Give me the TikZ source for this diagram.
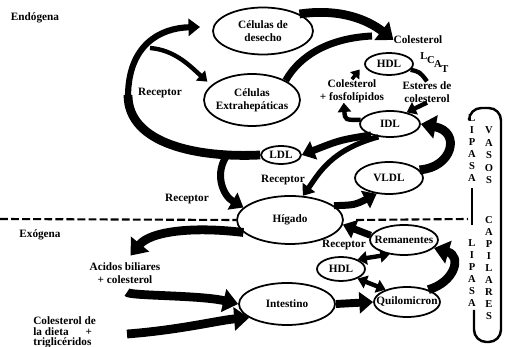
\documentclass[tikz,border=0pt]{standalone}
\usepackage{fontspec}
\setmainfont{Liberation Serif}
\usetikzlibrary{arrows.meta}
\usetikzlibrary{shapes.geometric}

\tikzset{
  rotulo/.style={font=\fontsize{6.4}{7.2}\selectfont\bfseries, inner sep=0pt, align=center},
  elipse/.style 2 args={rotulo, ellipse, draw, line width=1pt, minimum width=#1, minimum height=#2, inner sep=-5pt},
  flecha/.style={line width=#1, -{Triangle[length=2pt 1.3, width=2pt 2.2]}},
  dobleflecha/.style={line width=#1, {Triangle[length=2pt 1.3, width=2pt 2.2]}-{Triangle[length=2pt 1.3, width=2pt 2.2]}},
  letra/.style={font=\fontsize{6}{6}\selectfont\bfseries, inner sep=0pt},
}

\begin{document}
\begin{tikzpicture}[x=0.02cm, y=-0.02cm]
        \useasboundingbox (0,0) rectangle (505,347);
        \node[elipse={2cm}{0.94cm}] (desecho) at (263,31) {C\'elulas de\\desecho};
        \node[elipse={1.92cm}{1.04cm}] (extra) at (252,100) {C\'elulas\\Extrahep\'aticas};
        \node[elipse={0.96cm}{0.44cm}] (hdlA) at (389,64) {HDL};
        \node[elipse={1.2cm}{0.52cm}] (idl) at (390,124) {IDL};
        \node[elipse={0.8cm}{0.36cm}] (ldl) at (281,155) {LDL};
        \node[elipse={1.36cm}{0.64cm}] (vldl) at (389,178) {VLDL};
        \node[elipse={2.12cm}{0.96cm}] (higado) at (290,220) {H\'igado};
        \node[elipse={1.36cm}{0.6cm}] (reman) at (404,240) {Remanentes};
        \node[elipse={0.96cm}{0.48cm}] (hdlB) at (341,269) {HDL};
        \node[elipse={1.32cm}{0.6cm}] (quilo) at (407,302) {Quilomicron};
        \node[elipse={1.92cm}{0.84cm}] (intes) at (287,304) {Intestino};

        \node[rotulo] (endo) at (35,18) {End\'ogena};
        \node[rotulo] (exo) at (40,235) {Ex\'ogena};
        \node[rotulo] (rec1) at (160,93) {Receptor};
        \node[rotulo] (rec2) at (187,199) {Receptor};
        \node[rotulo] (rec3) at (283,180) {Receptor};
        \node[rotulo] (rec4) at (344,245) {Receptor};
        \node[rotulo] (col) at (418,40) {Colesterol};
        \node[rotulo] (colfos) at (352,91) {Colesterol\\+ fosfol\'ipidos};
        \node[rotulo] (esteres) at (427,92) {Esteres de\\colesterol};
        \node[rotulo] (acidos) at (125,273) {Acidos biliares\\+ colesterol};
        \node[rotulo, align=left, anchor=north west, font=\fontsize{6.4}{6.2}\selectfont\bfseries] (dieta) at (33,316) {Colesterol de\\la dieta \quad\ +\\triglic\'eridos};
        \foreach \l/\x/\y in {L/424/56, C/431/60, A/438/64, T/445/69}
            \node[letra] (lcat\l) at (\x,\y) {\l};

        \foreach \l [count=\i] in {L,I,P,A,S,A}
            \node[letra] (lipA\i) at (472,106+12*\i) {\l};
        \foreach \l [count=\i] in {L,I,P,A,S,A}
            \node[letra] (lipB\i) at (472,231+12*\i) {\l};
        \foreach \l [count=\i] in {V,A,S,O,S}
            \node[letra] (vasos\i) at (489,118+12.5*\i) {\l};
        \foreach \l [count=\i] in {C,A,P,I,L,A,R,E,S}
            \node[letra] (capil\i) at (489,208+12*\i) {\l};
        \draw[line width=1.6pt] (lipA6.south) ++(0,6) -- ([yshift=8]lipB1.north);
        \draw[line width=1.4pt, rounded corners=7pt] (469,118) -- (469,108) -- (501,108) -- (501,342) -- (474,342) -- (474,310);

        \coordinate (dashL) at (0,219);
        \coordinate (dashR) at (468,219);
        \draw[line width=1.2pt, dash pattern=on 4.5pt off 1.8pt] (dashL) -- (higado.west);
        \draw[line width=1.2pt, dash pattern=on 4.5pt off 1.8pt] ([xshift=7pt]higado.east) -- (dashR);

        \coordinate (ramalA) at (228,154);
        \coordinate (ramalB) at (150,48);
        \coordinate (salida) at (127,334);
        \draw[line width=5pt] (ldl.west) .. controls (200,158) and (128,145) .. (128,95);
        \draw[flecha=3.5pt] (128,97) .. controls (128,45) and (160,28) .. (200,27);
        \draw[flecha=2.5pt, shorten >=3pt] (ramalB) .. controls (175,50) and (190,66) .. (extra.160);
        \draw[flecha=4pt] (ramalA) .. controls (214,172) and (222,195) .. (higado.165);

        \draw[flecha=5pt] (desecho.25) .. controls (340,8) and (368,20) .. (col.west);
        \draw[line width=4pt] (extra.30) .. controls (300,55) and (330,38) .. (372,36);
        \draw[line width=2.5pt] (hdlA.-15) .. controls (420,72) .. (esteres.north);
        \draw[flecha=2pt, shorten >=4pt] (colfos.north) -- (hdlA.west);
        \draw[flecha=2.5pt] (idl.172) .. controls (345,120) .. (colfos.-125);
        \draw[flecha=2.5pt] (esteres.south) -- (idl.35);

        \draw[flecha=4pt] (idl.210) .. controls (340,140) .. (ldl.east);
        \draw[flecha=3pt] (idl.228) .. controls (330,150) and (318,175) .. (higado.62);
        \draw[flecha=5pt] (vldl.15) .. controls (452,168) and (462,132) .. (idl.east);
        \draw[flecha=4pt] (higado.18) .. controls (355,205) .. (vldl.232);
        \draw[flecha=4pt] (reman.172) -- (higado.-5);
        \draw[dobleflecha=2.5pt] (hdlB.30) -- (reman.225);
        \draw[dobleflecha=2.5pt] (hdlB.-30) -- (quilo.150);
        \draw[flecha=4.5pt] (intes.east) -- (quilo.west);
        \draw[flecha=5pt] (quilo.30) .. controls (455,282) and (462,256) .. (reman.-15);

        \draw[flecha=5pt, shorten >=5pt] (higado.195) .. controls (190,226) and (150,232) .. (acidos.north);
        \draw[flecha=5pt, shorten <=5pt] (acidos.south) .. controls (128,296) and (200,295) .. (intes.180);
        \draw[flecha=5pt] (salida) .. controls (180,330) and (220,320) .. (intes.200);
\end{tikzpicture}
\end{document}
